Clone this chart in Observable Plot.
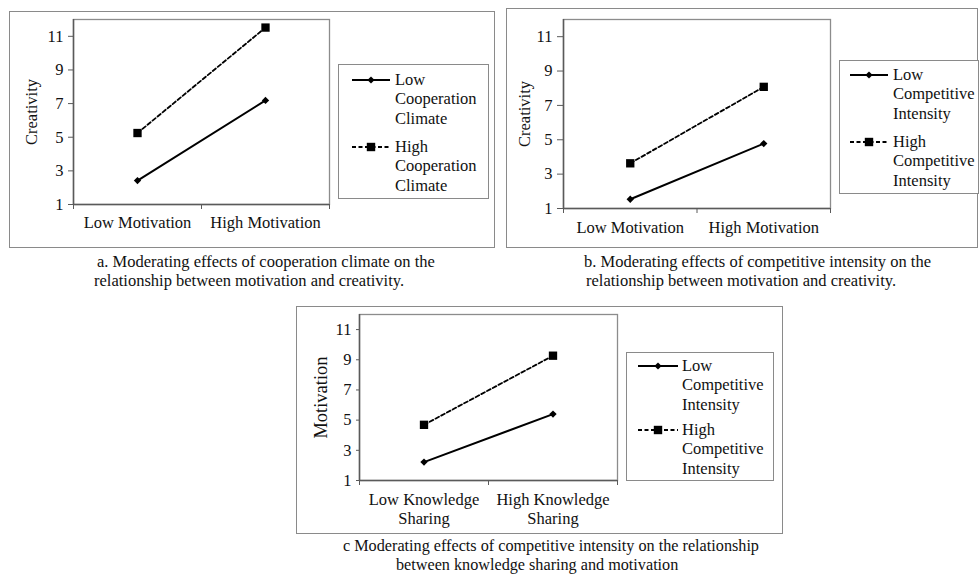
<!DOCTYPE html>
<html><head><meta charset="utf-8">
<script src="https://cdn.jsdelivr.net/npm/d3@7"></script>
<script src="https://cdn.jsdelivr.net/npm/@observablehq/plot@0.6"></script>
<style>
body{margin:0;background:#fff;width:980px;height:575px;position:relative;overflow:hidden;font-family:"Liberation Serif","Times New Roman",serif;color:#111;}
.plotbox{position:absolute;}
.frame{position:absolute;border:1.5px solid #8a8a8a;box-sizing:border-box;pointer-events:none;}
.legend{position:absolute;border:1.5px solid #8a8a8a;box-sizing:border-box;background:#fff;}
.legend .txt{position:absolute;font-size:16.5px;line-height:19.3px;white-space:pre;}
.legend svg{position:absolute;}
.cap{position:absolute;font-size:16.5px;white-space:nowrap;line-height:16px;}
.cap.small{font-size:16.2px;}
</style></head><body>
<script>
// ---------- data ----------
const yTicks = [1, 3, 5, 7, 9, 11];

const categoriesA = ["Low Motivation", "High Motivation"];
const seriesA = ["Low Cooperation Climate", "High Cooperation Climate"];
const lowA = [2.42, 7.19];
const highA = [5.25, 11.52];

const categoriesB = ["Low Motivation", "High Motivation"];
const seriesB = ["Low Competitive Intensity", "High Competitive Intensity"];
const lowB = [1.54, 4.78];
const highB = [3.63, 8.08];

const categoriesC = ["Low Knowledge Sharing", "High Knowledge Sharing"];
const tickLabelsC = ["Low Knowledge\nSharing", "High Knowledge\nSharing"];
const seriesC = ["Low Competitive Intensity", "High Competitive Intensity"];
const lowC = [2.22, 5.40];
const highC = [4.69, 9.27];

const legendLabelsA = ["Low\nCooperation\nClimate", "High\nCooperation\nClimate"];
const legendLabelsB = ["Low\nCompetitive\nIntensity", "High\nCompetitive\nIntensity"];
const legendLabelsC = ["Low\nCompetitive\nIntensity", "High\nCompetitive\nIntensity"];

const captionA = ["a. Moderating effects of cooperation climate on the", "relationship between motivation and creativity."];
const captionB = ["b. Moderating effects of competitive intensity on the", "relationship between motivation and creativity."];
const captionC = ["c Moderating effects of competitive intensity on the relationship", "between knowledge sharing and motivation"];

// ---------- helpers ----------
function rows(cats, series, low, high) {
  const out = [];
  cats.forEach((c, i) => {
    out.push({cat: c, pos: i + 0.5, series: series[0], value: low[i]});
    out.push({cat: c, pos: i + 0.5, series: series[1], value: high[i]});
  });
  return out;
}

function panel(cfg) {
  const data = rows(cfg.cats, cfg.series, cfg.low, cfg.high);
  const lowData = data.filter(d => d.series === cfg.series[0]);
  const highData = data.filter(d => d.series === cfg.series[1]);
  const tl = cfg.tickLabels || cfg.cats;
  const chart = Plot.plot({
    width: cfg.width, height: cfg.height,
    marginLeft: cfg.m[0], marginTop: cfg.m[1], marginRight: cfg.m[2], marginBottom: cfg.m[3],
    style: {fontFamily: "Liberation Serif, Times New Roman, serif", fontSize: "16.5px", background: "transparent", color: "#111"},
    x: {type: "linear", domain: [0, cfg.cats.length]},
    y: {domain: [1, 12]},
    marks: [
      Plot.frame({stroke: "#8c8c8c", strokeWidth: 1.3}),
      Plot.ruleX([0], {stroke: "#5a5a5a", strokeWidth: 1.5}),
      Plot.ruleY([1], {stroke: "#5a5a5a", strokeWidth: 1.5}),
      Plot.axisY({ticks: yTicks, tickSize: cfg.tickSize, tickPadding: 5, stroke: "#5a5a5a", fontSize: 16.5, label: null}),
      Plot.axisY({ticks: [], label: cfg.ylabel, labelAnchor: "center", labelArrow: "none", labelOffset: cfg.labelOffset, fontSize: cfg.ylabelSize}),
      Plot.axisX({ticks: d3.range(cfg.cats.length + 1), tickSize: 5, stroke: "#5a5a5a", tickFormat: () => "", label: null}),
      Plot.axisX({ticks: cfg.cats.map((c, i) => i + 0.5), tickSize: 0, tickPadding: cfg.xPad, fontSize: 16.5, lineHeight: 1.15,
                  tickFormat: v => tl[Math.floor(v)], label: null}),
      Plot.line(lowData, {x: "pos", y: "value", stroke: "black", strokeWidth: 2}),
      Plot.line(highData, {x: "pos", y: "value", stroke: "black", strokeWidth: 1.8, strokeDasharray: "4,2.5"}),
      Plot.dot(lowData, {x: "pos", y: "value", symbol: "diamond2", fill: "black", stroke: "none", r: 3.3}),
      Plot.dot(highData, {x: "pos", y: "value", symbol: "square", fill: "black", stroke: "none", r: 4.7})
    ]
  });
  const box = document.createElement("div");
  box.className = "plotbox";
  box.style.left = cfg.left + "px";
  box.style.top = cfg.top + "px";
  box.appendChild(chart);
  document.body.appendChild(box);
}

function frame(l, t, w, h) {
  const f = document.createElement("div");
  f.className = "frame";
  Object.assign(f.style, {left: l + "px", top: t + "px", width: w + "px", height: h + "px"});
  document.body.appendChild(f);
}

function legend(cfg) {
  const box = document.createElement("div");
  box.className = "legend";
  Object.assign(box.style, {left: cfg.left + "px", top: cfg.top + "px", width: cfg.w + "px", height: cfg.h + "px"});
  cfg.labels.forEach((lab, k) => {
    const cy = cfg.rowCenters[k];
    const sw = cfg.sw1 - cfg.sw0;
    const svg = d3.create("svg").attr("width", sw + 4).attr("height", 14)
      .style("left", (cfg.sw0 - 2) + "px").style("top", (cy - 7) + "px");
    svg.append("line").attr("x1", 2).attr("x2", sw + 2).attr("y1", 7).attr("y2", 7)
      .attr("stroke", "black").attr("stroke-width", k === 0 ? 2 : 1.8)
      .attr("stroke-dasharray", k === 0 ? null : "4,2.5");
    const mx = 2 + sw / 2;
    if (k === 0) svg.append("path").attr("d", `M${mx},3.6L${mx + 3.6},7L${mx},10.4L${mx - 3.6},7Z`).attr("fill", "black");
    else svg.append("rect").attr("x", mx - 4.2).attr("y", 2.8).attr("width", 8.4).attr("height", 8.4).attr("fill", "black");
    box.appendChild(svg.node());
    const t = document.createElement("div");
    t.className = "txt";
    t.textContent = lab;
    t.style.left = cfg.textX + "px";
    t.style.top = (cy - 10) + "px";
    box.appendChild(t);
  });
  document.body.appendChild(box);
}

function caption(lines, starts, centers, cls) {
  lines.forEach((ln, i) => {
    const d = document.createElement("div");
    d.className = "cap" + (cls ? " " + cls : "");
    d.textContent = ln;
    d.style.left = starts[i] + "px";
    d.style.top = (centers[i] - 8) + "px";
    document.body.appendChild(d);
  });
}

// ---------- panels ----------
panel({cats: categoriesA, series: seriesA, low: lowA, high: highA, ylabel: "Creativity", ylabelSize: 16.5,
  left: 0, top: 0, width: 335, height: 245, m: [73, 19, 6, 41], tickSize: 5, xPad: 10, labelOffset: 48});
panel({cats: categoriesB, series: seriesB, low: lowB, high: highB, ylabel: "Creativity", ylabelSize: 16.5,
  left: 490, top: 0, width: 345, height: 245, m: [73, 19, 5, 37], tickSize: 6, xPad: 11, labelOffset: 45});
panel({cats: categoriesC, tickLabels: tickLabelsC, series: seriesC, low: lowC, high: highC, ylabel: "Motivation", ylabelSize: 18.5,
  left: 290, top: 290, width: 335, height: 240, m: [69, 24, 8, 50], tickSize: 3, xPad: 11, labelOffset: 46});

frame(9, 11, 486, 237);
frame(506, 8, 472, 240);
frame(296, 306, 487, 228);

legend({left: 338, top: 64, w: 151, h: 135, sw0: 13, sw1: 51, textX: 56, rowCenters: [15, 82], labels: legendLabelsA});
legend({left: 839, top: 60, w: 140, h: 134, sw0: 10, sw1: 48, textX: 53, rowCenters: [14, 81], labels: legendLabelsB});
legend({left: 626, top: 352, w: 148, h: 129, sw0: 11, sw1: 51, textX: 55, rowCenters: [13, 77], labels: legendLabelsC});

caption(captionA, [97, 94], [261.5, 281]);
caption(captionB, [584, 586], [261.5, 281]);
caption(captionC, [343, 396], [546, 565], "small");
</script>
</body></html>
